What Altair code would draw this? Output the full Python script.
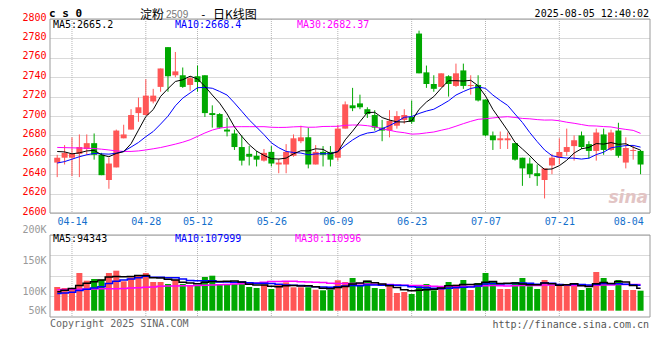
import altair as alt
import pandas as pd

# ---------------- data ----------------
dates = ["04-10", "04-11", "04-14", "04-15", "04-16", "04-17", "04-18", "04-21", "04-22", "04-23",
         "04-24", "04-25", "04-28", "04-29", "04-30", "05-06", "05-07", "05-08", "05-09", "05-12",
         "05-13", "05-14", "05-15", "05-16", "05-19", "05-20", "05-21", "05-22", "05-23", "05-26",
         "05-27", "05-28", "05-29", "05-30", "06-03", "06-04", "06-05", "06-06", "06-09", "06-10",
         "06-11", "06-12", "06-13", "06-16", "06-17", "06-18", "06-19", "06-20", "06-23", "06-24",
         "06-25", "06-26", "06-27", "06-30", "07-01", "07-02", "07-03", "07-04", "07-07", "07-08",
         "07-09", "07-10", "07-11", "07-14", "07-15", "07-16", "07-17", "07-18", "07-21", "07-22",
         "07-23", "07-24", "07-25", "07-28", "07-29", "07-30", "07-31", "08-01", "08-04", "08-05"]

opens = [2652, 2657, 2657, 2661, 2666, 2672, 2660, 2634, 2647, 2677,
         2686, 2703, 2701, 2715, 2730, 2771, 2742, 2742, 2732, 2741,
         2742, 2703, 2702, 2686, 2682, 2668, 2661, 2659, 2654, 2663,
         2650, 2650, 2659, 2674, 2678, 2650, 2663, 2663, 2657, 2687,
         2711, 2713, 2707, 2701, 2688, 2685, 2690, 2696, 2699, 2785,
         2745, 2733, 2730, 2741, 2731, 2747, 2731, 2732, 2717, 2680,
         2675, 2675, 2672, 2657, 2651, 2641, 2634, 2649, 2657, 2663,
         2669, 2680, 2671, 2664, 2681, 2665, 2685, 2652, 2664, 2664]
highs = [2660, 2670, 2678, 2681, 2681, 2682, 2662, 2657, 2686, 2691,
         2707, 2719, 2738, 2728, 2749, 2771, 2766, 2750, 2741, 2752,
         2742, 2711, 2703, 2698, 2686, 2680, 2669, 2664, 2666, 2669,
         2656, 2671, 2681, 2690, 2688, 2670, 2669, 2669, 2691, 2715,
         2729, 2722, 2709, 2706, 2696, 2706, 2705, 2707, 2716, 2788,
         2752, 2742, 2744, 2742, 2754, 2754, 2742, 2742, 2717, 2684,
         2684, 2683, 2672, 2657, 2657, 2650, 2646, 2661, 2677, 2687,
         2680, 2684, 2674, 2687, 2687, 2686, 2693, 2678, 2670, 2665]
lows = [2637, 2650, 2638, 2637, 2660, 2655, 2639, 2625, 2647, 2677,
        2686, 2694, 2701, 2713, 2725, 2725, 2740, 2729, 2726, 2725,
        2699, 2688, 2687, 2679, 2665, 2649, 2649, 2648, 2653, 2648,
        2641, 2641, 2658, 2672, 2646, 2650, 2648, 2648, 2654, 2687,
        2705, 2707, 2698, 2685, 2674, 2678, 2687, 2692, 2692, 2744,
        2729, 2725, 2730, 2720, 2730, 2728, 2722, 2715, 2679, 2665,
        2666, 2666, 2654, 2628, 2636, 2628, 2615, 2640, 2650, 2659,
        2654, 2666, 2656, 2654, 2660, 2664, 2657, 2646, 2655, 2640]
closes = [2657, 2662, 2661, 2668, 2672, 2660, 2639, 2651, 2685, 2681,
          2701, 2709, 2721, 2721, 2749, 2741, 2746, 2730, 2739, 2735,
          2703, 2701, 2688, 2684, 2668, 2654, 2658, 2655, 2662, 2651,
          2652, 2663, 2677, 2678, 2650, 2663, 2660, 2655, 2687, 2712,
          2708, 2709, 2702, 2688, 2685, 2695, 2700, 2701, 2694, 2744,
          2733, 2728, 2744, 2733, 2744, 2731, 2732, 2716, 2680, 2675,
          2677, 2677, 2655, 2646, 2640, 2638, 2646, 2657, 2663, 2668,
          2675, 2668, 2664, 2683, 2665, 2683, 2659, 2667, 2665, 2650]
volumes = [100000, 95800, 95800, 159100, 126600, 133800, 130800, 159100, 168800, 124100,
           140900, 147700, 159100, 121100, 121100, 112700, 130800, 112700, 107200, 107200,
           142200, 147700, 112700, 112700, 112700, 121100, 100000, 95800, 109700, 91600,
           109700, 119800, 98700, 98700, 98700, 88600, 86100, 88600, 128300, 121100,
           138000, 109700, 126600, 95800, 91600, 103000, 74700, 78900, 70500, 103000,
           112700, 86100, 104200, 121100, 109700, 129600, 87400, 116900, 159100, 121100,
           91600, 91600, 121100, 138000, 103000, 91600, 129600, 107200, 107200, 109700,
           112700, 87400, 95800, 163300, 138000, 87400, 129600, 87400, 87400, 84400]

ma5 = [2663.4, 2663.0, 2661.0, 2662.0, 2664.0, 2664.6, 2660.0, 2658.0, 2661.4, 2663.2,
       2671.4, 2685.4, 2699.4, 2706.6, 2720.2, 2728.2, 2735.6, 2737.4, 2741.0, 2738.2,
       2730.6, 2721.6, 2713.2, 2702.2, 2688.8, 2679.0, 2670.4, 2663.8, 2659.4, 2656.0,
       2655.6, 2656.6, 2661.0, 2664.2, 2664.0, 2666.2, 2665.6, 2661.2, 2663.0, 2675.4,
       2684.4, 2694.2, 2703.6, 2703.8, 2698.4, 2695.8, 2694.0, 2693.8, 2695.0, 2706.8,
       2714.4, 2720.0, 2728.6, 2736.4, 2736.4, 2736.0, 2736.8, 2731.2, 2720.6, 2706.8,
       2696.0, 2685.0, 2672.8, 2666.0, 2659.0, 2651.2, 2645.0, 2645.4, 2648.8, 2654.4,
       2661.8, 2666.2, 2667.6, 2671.6, 2671.0, 2672.6, 2670.8, 2671.4, 2667.8, 2664.8]
ma10 = [2651.5, 2653.0, 2655.5, 2658.0, 2660.0, 2661.4, 2661.0, 2660.7, 2661.7, 2663.6,
        2668.0, 2672.7, 2678.7, 2684.0, 2691.7, 2699.8, 2710.5, 2718.4, 2723.8, 2729.2,
        2729.4, 2728.6, 2725.3, 2721.6, 2713.5, 2704.8, 2696.0, 2688.5, 2680.8, 2672.4,
        2667.3, 2663.5, 2662.4, 2661.8, 2660.0, 2660.9, 2661.1, 2661.1, 2663.6, 2669.7,
        2675.3, 2679.9, 2682.4, 2683.4, 2686.9, 2690.1, 2694.1, 2698.7, 2699.4, 2702.6,
        2705.1, 2707.0, 2711.2, 2715.7, 2721.6, 2725.2, 2728.4, 2729.9, 2728.5, 2721.6,
        2716.0, 2710.9, 2702.0, 2693.3, 2682.9, 2673.6, 2665.0, 2659.1, 2657.4, 2656.7,
        2656.5, 2655.6, 2656.5, 2660.2, 2662.7, 2667.2, 2668.5, 2669.5, 2669.7, 2667.9]
ma30 = [2667.6, 2667.4, 2667.2, 2667.0, 2666.8, 2666.5, 2665.8, 2665.0, 2664.0, 2663.5,
        2663.5, 2664.0, 2665.0, 2666.2, 2667.5, 2669.2, 2671.0, 2673.0, 2675.5, 2679.0,
        2682.5, 2685.5, 2687.5, 2688.5, 2689.0, 2689.0, 2689.0, 2689.0, 2689.0, 2688.4,
        2688.2, 2688.3, 2688.8, 2689.1, 2688.4, 2688.5, 2689.2, 2689.3, 2689.4, 2690.4,
        2690.7, 2690.7, 2690.0, 2688.9, 2686.8, 2685.3, 2683.7, 2682.8, 2681.3, 2681.6,
        2682.6, 2683.5, 2685.3, 2687.0, 2689.5, 2692.1, 2694.5, 2696.6, 2697.2, 2698.0,
        2698.8, 2699.3, 2698.5, 2697.5, 2697.1, 2696.3, 2695.8, 2695.9, 2695.1, 2693.6,
        2692.5, 2691.2, 2689.9, 2689.7, 2689.1, 2688.7, 2687.3, 2686.2, 2685.2, 2682.1]

vma5 = [80000, 86000, 94000, 106000, 115500, 122200, 129200, 141900, 143800, 143300,
        144700, 148100, 148100, 138600, 138000, 132300, 129000, 119700, 116900, 114100,
        120000, 123400, 123400, 124500, 125600, 121400, 111800, 108500, 107900, 103600,
        101400, 105300, 105900, 103700, 105100, 100900, 94200, 92100, 98100, 102500,
        112400, 117100, 124700, 118200, 112300, 105300, 98300, 88800, 83700, 86000,
        88000, 90200, 95300, 105400, 106800, 110100, 110400, 112900, 120500, 122800,
        115200, 116100, 116900, 112700, 109100, 109100, 116700, 113900, 107700, 109100,
        113300, 104800, 102600, 113800, 119400, 114400, 122800, 121100, 106000, 95200]
vma10 = [73000, 75000, 78000, 85000, 90000, 96000, 101000, 115000, 124000, 129400,
         133500, 138700, 145000, 141200, 140700, 138500, 138500, 133900, 127700, 126100,
         126200, 126200, 121500, 120700, 119900, 120700, 117600, 115900, 116200, 114600,
         111400, 108600, 107200, 105800, 104400, 101100, 99700, 99000, 100900, 103800,
         106700, 105700, 108400, 108200, 107400, 108900, 107700, 106800, 101000, 99200,
         96700, 94300, 92100, 94600, 96400, 99100, 100300, 104100, 113000, 114800,
         112700, 113200, 114900, 116600, 115900, 112100, 116400, 115400, 110200, 109100,
         111200, 110800, 108200, 110800, 114300, 113800, 113800, 111900, 109900, 107300]
vma30 = [88600, 89000, 90000, 90500, 91500, 92000, 92500, 93000, 93000, 94000,
         95800, 97000, 98500, 100000, 103000, 104000, 104500, 105000, 105600, 106000,
         107000, 108500, 110000, 111000, 112700, 114000, 115500, 116900, 119800, 123400,
         123700, 124500, 124600, 122600, 121600, 120100, 118600, 116300, 114900, 114800,
         114700, 113500, 112400, 111500, 110600, 110200, 108400, 107200, 106000, 105900,
         104900, 102800, 102600, 102800, 102700, 103000, 102600, 103300, 105000, 105900,
         105300, 104400, 105100, 106400, 106600, 106700, 108100, 108800, 108100, 107700,
         106800, 106100, 105100, 107300, 108900, 108300, 110200, 110500, 111000, 110400]

label_dates = ["04-14", "04-28", "05-12", "05-26", "06-09", "06-23", "07-07", "07-21", "08-04"]

# ---------------- styling / layout ----------------
RED = "#ff5656"
GREEN = "#00a800"
GRID = "#b4b4b4"
FRAME = "#9a9a9a"
MONO = "DejaVu Sans Mono"
CJK = "Noto Sans CJK SC"
W, H = 600, 298          # whole plotting region (both panels)
TOP_H = 194              # price panel height
VOL_Y0 = 216             # volume panel top (relative)

n = len(dates)
df = pd.DataFrame({
    "i": list(range(n)), "date": dates,
    "open": opens, "high": highs, "low": lows, "close": closes, "volume": volumes,
    "ma5": ma5, "ma10": ma10, "ma30": ma30,
    "vma5": vma5, "vma10": vma10, "vma30": vma30,
})
df["dir"] = ["up" if c >= o else "down" for o, c in zip(opens, closes)]

label_idx = [dates.index(d) for d in label_dates]
grid_df = pd.DataFrame({"i": label_idx[:-1]})
one = pd.DataFrame({"a": [0]})

x_scale = alt.Scale(domain=[-0.3, 79.6], nice=False, zero=False)
p_scale = alt.Scale(domain=[2492.8, 2800], nice=False, zero=False)
v_scale = alt.Scale(domain=[-26600, 1230800], nice=False, zero=False)

date_expr = "[" + ",".join("'%s'" % d for d in dates) + "][datum.value]"
x_axis = alt.Axis(values=label_idx, labelExpr=date_expr, grid=False, ticks=False, domain=False,
                  labelColor="#1470cc", labelFont=MONO, labelFontSize=10, labelPadding=3,
                  labelBaseline="top", offset=-(H - TOP_H), title=None,
                  labelOffset={"condition": {"test": "datum.value == %d" % label_idx[-1], "value": -5},
                               "value": 0})
x_enc = alt.X("i:Q", scale=x_scale, axis=x_axis)

p_axis = alt.Axis(values=list(range(2600, 2801, 20)), grid=True, gridDash=[1, 1], gridColor=GRID,
                  ticks=False, domain=False, labelColor="#ff0000", labelFont=MONO, labelFontSize=10,
                  labelPadding=4, labelOffset=-2, title=None, format="d")

vol_ticks = [0, 59900, 146400, 232900, 319400]
v_axis = alt.Axis(values=vol_ticks, orient="left", grid=True, gridDash=[1, 1], gridColor=GRID,
                  gridOpacity={"condition": {"test": "datum.value < 1", "value": 0}, "value": 1},
                  ticks=False, domain=False, labelColor="#999999", labelFont=MONO, labelFontSize=10,
                  labelPadding=4, title=None,
                  labelExpr="datum.value > 300000 ? '200K' : datum.value > 200000 ? '150K' : "
                            "datum.value > 100000 ? '' : datum.value > 50000 ? '100K' : '50K'",
                  labelBaseline={"condition": [
                      {"test": "datum.value > 300000", "value": "bottom"},
                      {"test": "datum.value > 200000", "value": "top"},
                      {"test": "datum.value > 50000 && datum.value < 100000", "value": "bottom"}],
                      "value": "middle"})

color_enc = alt.Color("dir:N", scale=alt.Scale(domain=["up", "down"], range=[RED, GREEN]), legend=None)

# ---------------- price panel ----------------
grid_top = alt.Chart(grid_df).mark_rule(strokeDash=[1, 1], color=GRID, strokeWidth=1).encode(
    x=x_enc, y=alt.value(0), y2=alt.value(TOP_H))
wicks = alt.Chart(df).mark_rule(strokeWidth=1).encode(
    x=x_enc, y=alt.Y("low:Q", scale=p_scale, axis=p_axis), y2="high:Q", color=color_enc)
bodies = alt.Chart(df).mark_bar(size=6).encode(
    x=x_enc, y=alt.Y("open:Q", scale=p_scale, axis=p_axis), y2="close:Q", color=color_enc)


def ma_line(field, color, scale, axis, step=False, width=1.0):
    kw = {"interpolate": "step"} if step else {}
    return alt.Chart(df).mark_line(color=color, strokeWidth=width, **kw).encode(
        x=x_enc, y=alt.Y(field + ":Q", scale=scale, axis=axis))


price = alt.layer(grid_top, wicks, bodies,
                  ma_line("ma30", "#ff00ff", p_scale, p_axis),
                  ma_line("ma10", "#0000ff", p_scale, p_axis),
                  ma_line("ma5", "#000000", p_scale, p_axis))

# ---------------- volume panel ----------------
grid_bot = alt.Chart(grid_df).mark_rule(strokeDash=[1, 1], color=GRID, strokeWidth=1).encode(
    x=x_enc, y=alt.value(VOL_Y0), y2=alt.value(H))
vbars = alt.Chart(df).mark_bar(size=6).encode(
    x=x_enc, y=alt.Y("volume:Q", scale=v_scale, axis=v_axis), y2=alt.datum(0), color=color_enc)
vol = alt.layer(grid_bot, vbars,
                ma_line("vma30", "#ff00ff", v_scale, v_axis, True, 1.5),
                ma_line("vma10", "#0000ff", v_scale, v_axis, True, 1.5),
                ma_line("vma5", "#000000", v_scale, v_axis, True, 1.5))

# ---------------- frames and texts ----------------
def frame(y0, y1):
    return alt.Chart(one).mark_rect(filled=False, stroke=FRAME, strokeWidth=1).encode(
        x=alt.value(0), x2=alt.value(W), y=alt.value(y0), y2=alt.value(y1))


def txt(s, x, y, color="#000000", size=10, font=MONO, align="left", weight="normal", style="normal"):
    return alt.Chart(one).mark_text(text=s, align=align, baseline="middle", font=font, fontSize=size,
                                    color=color, fontWeight=weight, fontStyle=style).encode(
        x=alt.value(x), y=alt.value(y))


texts = [
    txt("c s 0", -1, -5, size=11, weight="bold"),
    txt("淀粉", 90, -4, size=12, font=CJK),
    txt("2509", 116, -4, size=10, font="Liberation Sans", color="#777777"),
    txt("-", 150, -4, size=11, font=MONO),
    txt("日K线图", 163, -4, size=12, font=CJK),
    txt("2025-08-05 12:40:02", 599, -5.5, align="right"),
    txt("MA5:2665.2", 3, 6),
    txt("MA10:2668.4", 125, 6, color="#0000ff"),
    txt("MA30:2682.37", 247, 6, color="#ff00ff"),
    txt("MA5:94343", 3, 220),
    txt("MA10:107999", 125, 220, color="#0000ff"),
    txt("MA30:110996", 245, 220, color="#ff00ff"),
    txt("Copyright 2025 SINA.COM", 0, 304.5, color="#666666"),
    txt("http://finance.sina.com.cn", 599, 305.5, color="#555555", align="right"),
    txt("sina", 598, 179, color="#e2c4c4", size=17, font="DejaVu Sans", align="right",
        weight="bold", style="italic"),
]

chart = alt.layer(price, vol, frame(0, TOP_H), frame(VOL_Y0, H), *texts).resolve_scale(
    y="independent"
).properties(
    width=W, height=H,
    autosize=alt.AutoSizeParams(type="none"),
    padding={"left": 42, "top": 11, "right": 2, "bottom": 20},
).configure_view(stroke=None)

chart.save("out.html", embed_options={"renderer": "svg", "actions": False})
